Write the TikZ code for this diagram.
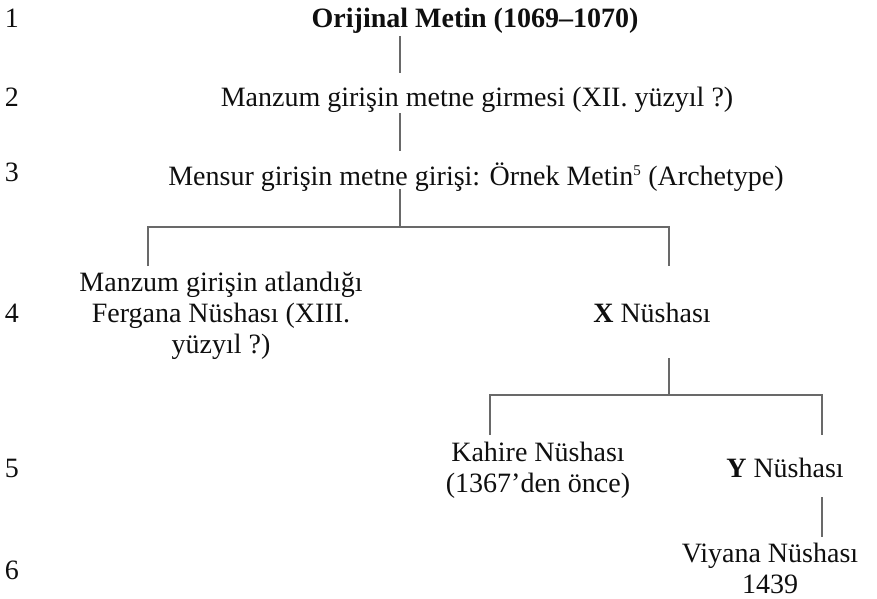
\documentclass[tikz,border=0pt]{standalone}
\usepackage{fontspec}
\setmainfont{Liberation Serif}
\definecolor{linegray}{RGB}{105,105,105}
\definecolor{textcol}{RGB}{15,15,15}
\begin{document}
\begin{tikzpicture}[x=1pt,y=-1pt,
  every node/.style={inner sep=0pt, outer sep=0pt, text=textcol,
    font=\fontsize{28}{31}\selectfont},
  lbl/.style={anchor=base},
  multi/.style={align=center, anchor=center},
  conn/.style={draw=linegray, line width=1.6pt}]
\useasboundingbox (0,0) rectangle (877,598);
% row numbers
\node[lbl] (r1) at (12,27) {1};
\node[lbl] (r2) at (12,106) {2};
\node[lbl] (r3) at (12,181) {3};
\node[lbl] (r4) at (12,322) {4};
\node[lbl] (r5) at (12,477) {5};
\node[lbl] (r6) at (12,579) {6};
% nodes
\node[lbl] (orig) at (475,27) {\textbf{Orijinal Metin (1069–1070)}};
\node[lbl] (manzum) at (477,106) {Manzum girişin metne girmesi (XII. yüzyıl ?)};
\node[lbl] (mensur) at (476,185) {Mensur girişin metne girişi: Örnek Metin\textsuperscript{\fontsize{15}{15}\selectfont 5} (Archetype)};
\node[multi] (fergana) at (221,316) {Manzum girişin atlandığı\\Fergana Nüshası (XIII.\\yüzyıl ?)};
\node[lbl] (xn) at (652,322) {\textbf{X} Nüshası};
\node[multi] (kahire) at (538,470) {Kahire Nüshası\\(1367’den önce)};
\node[lbl] (yn) at (785,477) {\textbf{Y} Nüshası};
\node[multi] (viyana) at (770,568) {Viyana Nüshası\\1439};
% connector points
\coordinate (c1a) at (400,36);
\coordinate (c1b) at (400,73);
\coordinate (c2a) at (400,113);
\coordinate (c2b) at (400,151);
\coordinate (c3a) at (400,189);
\coordinate (c3b) at (400,227);
\coordinate (fl) at (148,266);
\coordinate (xl) at (669,266);
\coordinate (c4a) at (669,358);
\coordinate (c4b) at (669,395);
\coordinate (kl) at (490,435);
\coordinate (yl) at (822,435);
\coordinate (c5a) at (822,497);
\coordinate (c5b) at (822,537);
% connectors
\draw[conn] (c1a) -- (c1b);
\draw[conn] (c2a) -- (c2b);
\draw[conn] (c3a) -- (c3b);
\draw[conn] (fl) |- (c3b) -| (xl);
\draw[conn] (c4a) -- (c4b);
\draw[conn] (kl) |- (c4b) -| (yl);
\draw[conn] (c5a) -- (c5b);
\end{tikzpicture}
\end{document}
